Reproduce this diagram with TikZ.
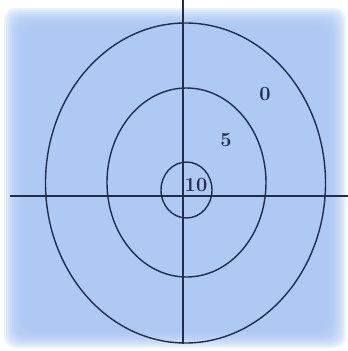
\documentclass[tikz,border=0pt]{standalone}
\usepackage{xcolor}
\definecolor{scanblue}{RGB}{168,198,244}
\definecolor{inkblue}{RGB}{35,45,75}
\usetikzlibrary{positioning}

\begin{document}
\begin{tikzpicture}[
    x=1pt, y=-1pt,
    ring/.style ={draw=inkblue, line width=1.4pt},
    axis/.style ={draw=inkblue, line width=1.2pt},
    score/.style={font=\fontsize{20}{20}\selectfont\bfseries,
                  text=inkblue, inner sep=1pt}
]
\useasboundingbox (0,0) rectangle (348,351);
\fill[white] (0,0) rectangle (348,351);
%% --- fond bleu, bords flous ---
\foreach \i in {0,...,9}
  \fill[scanblue, fill opacity=0.22, rounded corners=12pt]
    (4+2*\i,8+2*\i) rectangle (346-2*\i,348-2*\i);

%% --- cibles ---
\draw[ring] (185.5,183) ellipse [x radius=140, y radius=160];
\draw[ring] (186.5,182.5) ellipse [x radius=79.5, y radius=94.5];
\draw[ring] (186.5,190) ellipse [x radius=25.5, y radius=28];

%% --- axes ---
\coordinate (top)    at (183,0);
\coordinate (bottom) at (183,344);
\coordinate (left)   at (10,196);
\coordinate (right)  at (348,196);
\draw[axis] (top) -- (bottom);
\draw[axis] (left) -- (right);

%% --- points ---
\node[score] (zero) at (265,94)  {0};
\node[score] (five) at (226,140) {5};
\node[score] (ten)  at (196,185) {10};
\end{tikzpicture}
\end{document}
